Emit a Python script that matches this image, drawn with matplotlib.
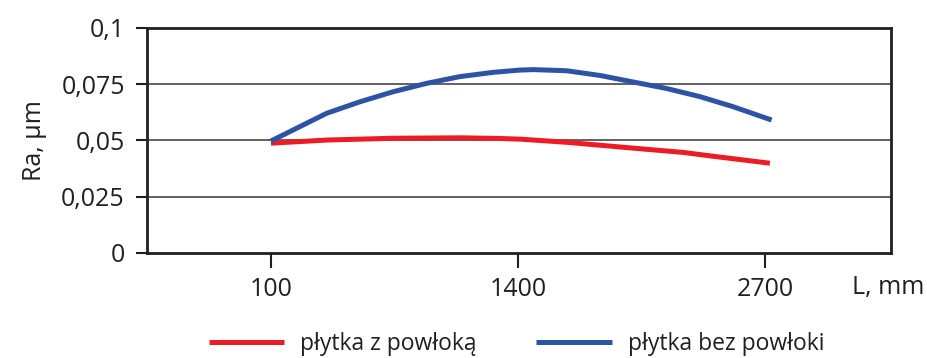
import numpy as np
import matplotlib.pyplot as plt

plt.rcParams['font.family'] = ['Open Sans', 'DejaVu Sans']

# values
x_red = [100, 393, 744, 1095, 1305, 1411, 1656, 2007, 2270, 2446, 2726]
y_red = [0.0488, 0.0502, 0.0510, 0.0512, 0.0509, 0.0506, 0.0492, 0.0466, 0.0447, 0.0428, 0.0399]
x_blue = [100, 217, 393, 568, 744, 919, 1095, 1270, 1411, 1481, 1656, 1832, 2007, 2183, 2358, 2533, 2735]
y_blue = [0.0498, 0.0547, 0.0621, 0.0672, 0.0717, 0.0754, 0.0784, 0.0803, 0.0813, 0.0815, 0.0810, 0.0789, 0.0760, 0.0731, 0.0695, 0.0650, 0.0591]
x_ticks = [100, 1400, 2700]
y_ticks = [0, 0.025, 0.05, 0.075, 0.1]
y_tick_labels = ['0', '0,025', '0,05', '0,075', '0,1']

red = '#ED1C24'
blue = '#2E53A4'
dark = '#231F20'

fig = plt.figure(figsize=(9.28, 3.58), dpi=100)
ax = fig.add_axes([0.1584, 0.2933, 0.8016, 0.6285])

for yv in y_ticks[1:-1]:
    ax.axhline(yv, color='#555555', lw=1.3, zorder=1)

ax.plot(x_red, y_red, color=red, lw=3.6, solid_capstyle='butt', solid_joinstyle='round', zorder=3, label='płytka z powłoką')
ax.plot(x_blue, y_blue, color=blue, lw=3.6, solid_capstyle='butt', solid_joinstyle='round', zorder=3, label='płytka bez powłoki')

ax.set_xlim(-553, 3363)
ax.set_ylim(0, 0.1)
ax.set_xticks(x_ticks)
ax.set_xticklabels([str(v) for v in x_ticks])
ax.set_yticks(y_ticks)
ax.set_yticklabels(y_tick_labels)

for s in ax.spines.values():
    s.set_color(dark)
    s.set_linewidth(2.0)
ax.tick_params(axis='y', direction='out', length=8, width=1.5, color=dark, labelsize=18, pad=8, labelcolor=dark)
ax.tick_params(axis='x', direction='out', length=11, width=1.5, color=dark, labelsize=18, pad=6, labelcolor=dark)

ax.set_ylabel('Ra, µm', fontsize=18, color=dark, labelpad=10)
fig.text(0.918, 0.198, 'L, mm', fontsize=18, color=dark, ha='left', va='center')

fig.legend(loc='center', bbox_to_anchor=(0.5566, 0.039), ncol=2, frameon=False,
           fontsize=16.5, handlelength=3.3, handletextpad=0.7, columnspacing=2.6,
           labelcolor=dark)

fig.savefig('out.png', dpi=100)
